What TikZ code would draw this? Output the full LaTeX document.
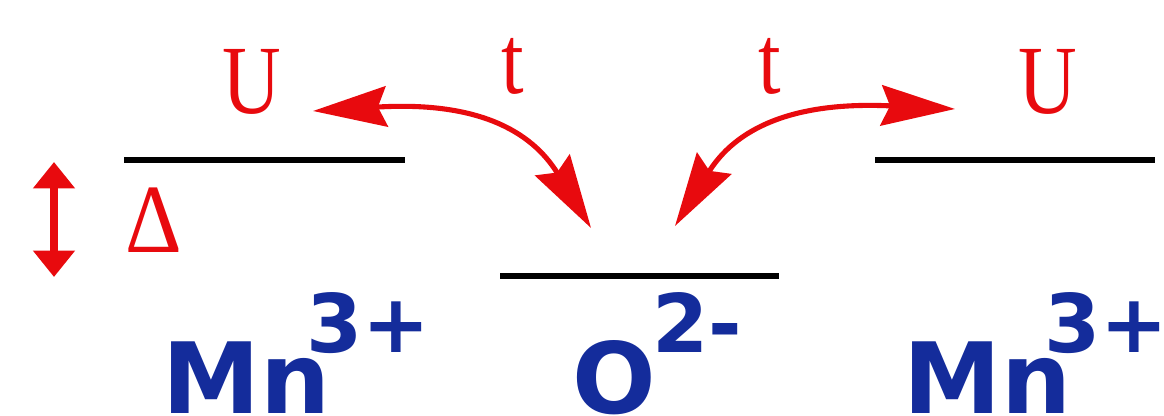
\documentclass[tikz,border=0pt]{standalone}
\usepackage{fontspec}
\usepackage{graphicx}
\usetikzlibrary{arrows.meta}
\newfontfamily\lblserif{Liberation Serif}
\newfontfamily\lblsans{DejaVu Sans}
\definecolor{arrred}{RGB}{232,10,14}
\definecolor{ionblue}{RGB}{20,44,155}
\begin{document}
\begin{tikzpicture}[x=0.02cm,y=-0.02cm,
  level/.style={line width=3.4pt, black},
  hop/.style={arrred, line width=2.9pt,
    {Stealth[length=42pt,width=23pt,inset=5pt]}-{Stealth[length=42pt,width=23pt,inset=5pt]}},
  gap/.style={arrred, line width=4.4pt,
    {Triangle[length=15pt,width=23pt]}-{Triangle[length=15pt,width=23pt]}},
  redlbl/.style={text=arrred, font=\lblserif\fontsize{55.7}{60}\selectfont, inner sep=0pt, anchor=base},
  ion/.style={text=ionblue, font=\lblsans\bfseries\fontsize{56}{60}\selectfont, inner sep=0pt, anchor=base west}]
\useasboundingbox (0,0) rectangle (1164,416);
% energy levels
\coordinate (MnLa) at (124,160); \coordinate (MnLb) at (405,160);
\coordinate (Oa) at (500,276);   \coordinate (Ob) at (779,276);
\coordinate (MnRa) at (875,160); \coordinate (MnRb) at (1155,160);
\draw[level] (MnLa) -- (MnLb);
\draw[level] (Oa) -- (Ob);
\draw[level] (MnRa) -- (MnRb);
% charge-transfer gap arrow
\coordinate (gapTop) at (54,162);
\coordinate (gapBot) at (54,277);
\draw[gap] (gapTop) -- (gapBot);
\node[redlbl] (delta) at (154,252) {\scalebox{0.9}[1]{Δ}};
% hopping arrows
\coordinate (UtipL) at (313,111); \coordinate (OtipL) at (591,228);
\coordinate (OtipR) at (675,226); \coordinate (UtipR) at (955,109);
\draw[hop] (UtipL) .. controls (476,101) and (531,130) .. (OtipL);
\draw[hop] (OtipR) .. controls (735,130) and (790,101) .. (UtipR);
% labels
\node[redlbl] (UL) at (252,113) {\scalebox{0.83}[1]{U}};
\node[redlbl] (UR) at (1048,113) {\scalebox{0.83}[1]{U}};
\node[redlbl] (tL) at (513,93) {\scalebox{0.83}[1]{t}};
\node[redlbl] (tR) at (770,93) {\scalebox{0.83}[1]{t}};
% ions
\node[ion] (MnL) at (162,413) {Mn\kern-13.5pt\raisebox{34.5pt}{\fontsize{46}{46}\selectfont 3+}};
\node[ion] (O) at (572,413) {O\kern-2pt\raisebox{34.5pt}{\fontsize{46}{46}\selectfont 2-}};
\node[ion] (MnR) at (903,413) {Mn\kern-15.5pt\raisebox{34.5pt}{\fontsize{46}{46}\selectfont 3+}};
\end{tikzpicture}
\end{document}
